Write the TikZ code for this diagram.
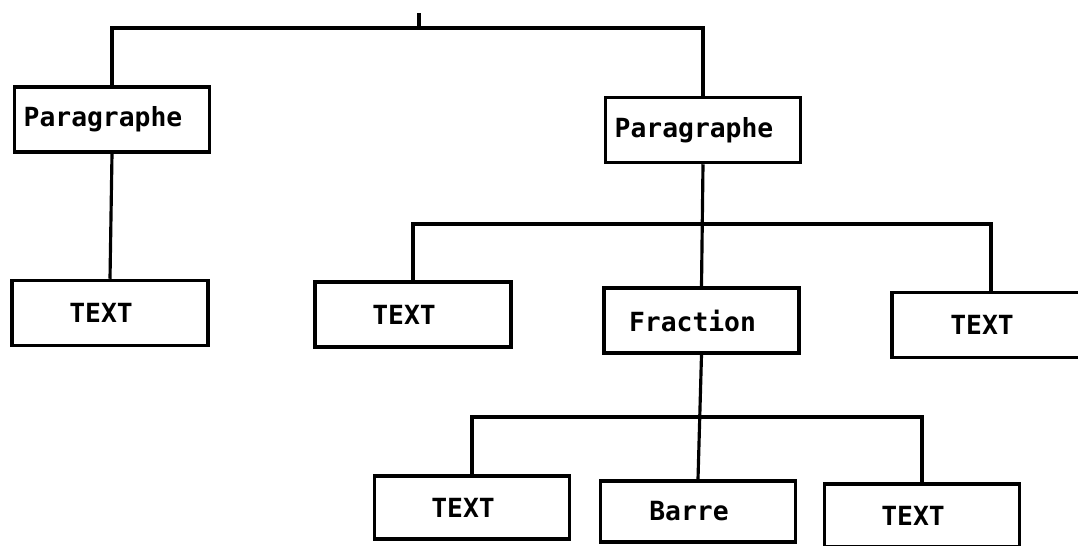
\documentclass[tikz,border=0pt]{standalone}
\usepackage{fontspec}
\setmonofont{DejaVu Sans Mono}
\usetikzlibrary{positioning}

\begin{document}
\begin{tikzpicture}[
  x=0.02cm, y=-0.02cm,
  box/.style={draw, rectangle, line width=2pt, minimum width=3.9cm, minimum height=1.3cm,
    inner sep=0pt, font=\ttfamily\bfseries\fontsize{15}{18}\selectfont,
    execute at end node={\hspace{0.36cm}}},
  link/.style={line width=1.8pt}
]
  \useasboundingbox (0,0) rectangle (1078,545);
  \clip (0,0) rectangle (1078,545);

  % first level
  \node[box]                        (parL) at (112,119.5) {Paragraphe};
  \node[box]                        (parR) at (703,130)   {Paragraphe};
  % second level
  \node[box, minimum width=3.92cm]  (textL) at (110,313)   {TEXT};
  \node[box, minimum width=3.92cm]  (textM) at (413,314.5) {TEXT};
  \node[box]                        (frac)  at (701.5,320.5) {Fraction};
  \node[box, minimum width=3.96cm]  (textR) at (991,325)   {TEXT};
  % third level
  \node[box, minimum height=1.26cm] (textBL) at (472,507.5) {TEXT};
  \node[box, minimum height=1.22cm] (barre)  at (698,511.5) {Barre};
  \node[box, minimum height=1.26cm] (textBR) at (922,515.5) {TEXT};

  % bus lines
  \coordinate (top)  at (419,13);
  \coordinate (root) at (419,28);
  \coordinate (bus1) at (703,224);
  \coordinate (bus2) at (700,417);

  \draw[link] (top) -- (root);
  \draw[link] (parL.north) |- (root) -| (parR.north);
  \draw[link] (parL.south) -- (textL.north);
  \draw[link] (parR.south) -- (frac.north);
  \draw[link] (textM.north) |- (bus1) -| (textR.north);
  \draw[link] (frac.south) -- (barre.north);
  \draw[link] (textBL.north) |- (bus2) -| (textBR.north);
\end{tikzpicture}
\end{document}
